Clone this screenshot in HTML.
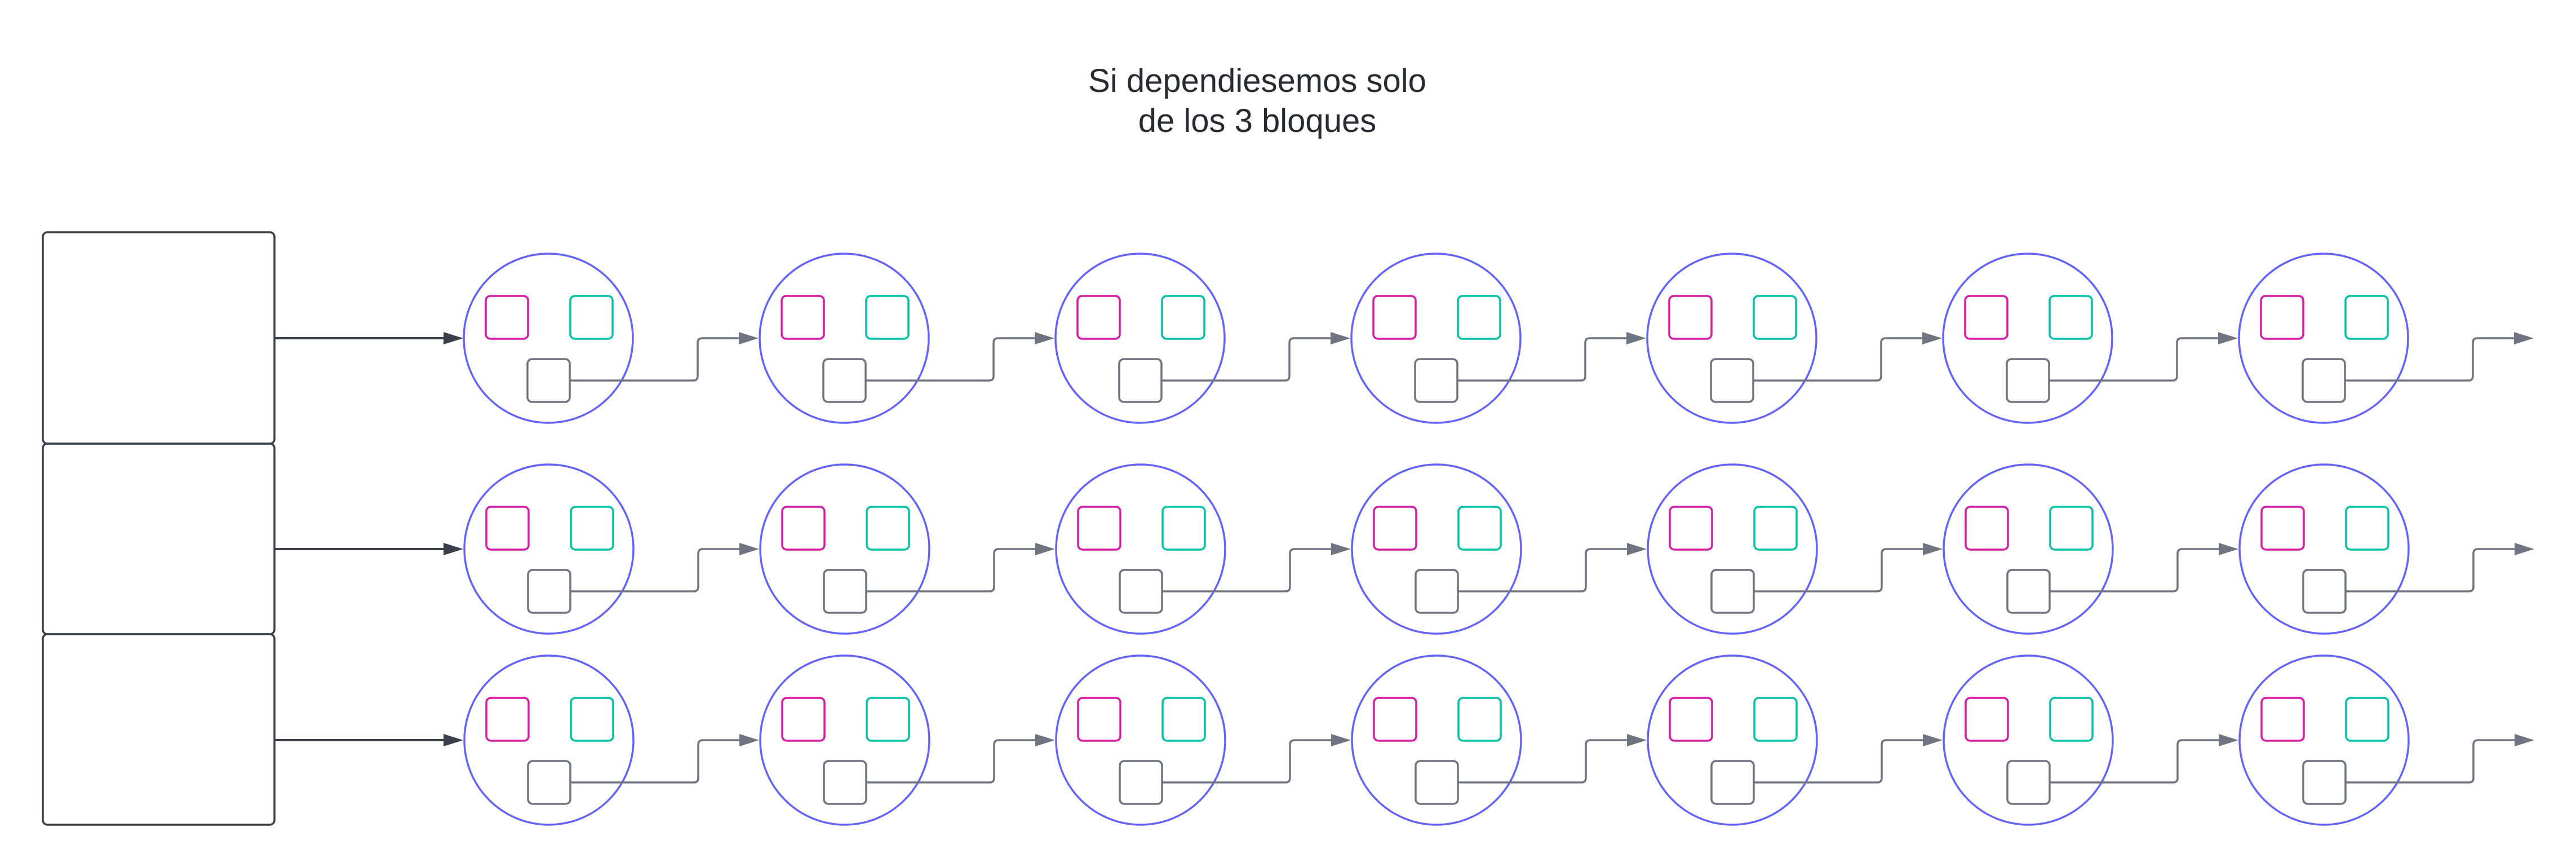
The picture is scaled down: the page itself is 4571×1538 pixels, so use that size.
<!DOCTYPE html>
<html><head><meta charset="utf-8"><style>
html,body{margin:0;padding:0;background:#fff;}
svg{display:block;}
</style></head><body>
<svg width="4571" height="1538" viewBox="0 0 4571 1538" xmlns="http://www.w3.org/2000/svg">
<defs>
<g id="n">
  <circle cx="973" cy="600" r="150" fill="none" stroke="#6363fb" stroke-width="3.5"/>
  <rect x="862" y="525" width="75" height="76" rx="8" fill="none" stroke="#d81aa5" stroke-width="3.5"/>
  <rect x="1012" y="525" width="75" height="76" rx="8" fill="none" stroke="#00c2a8" stroke-width="3.5"/>
  <rect x="936" y="637" width="75" height="76" rx="8" fill="none" stroke="#6e7480" stroke-width="3.5"/>
  <path d="M1011 675 H1230 Q1238 675 1238 667 V608 Q1238 600 1246 600 H1314" fill="none" stroke="#6e7480" stroke-width="3.5"/>
  <polygon points="1311,589 1346,600 1311,611" fill="#6e7480"/>
</g>
<g id="row">
  <use href="#n"/>
  <use href="#n" x="525"/>
  <use href="#n" x="1050"/>
  <use href="#n" x="1575"/>
  <use href="#n" x="2100"/>
  <use href="#n" x="2625"/>
  <use href="#n" x="3150"/>
</g>
</defs>
<text x="2231" y="163" font-family="Liberation Sans, sans-serif" font-size="58" fill="#262a31" text-anchor="middle">Si dependiesemos solo</text>
<text x="2231" y="234" font-family="Liberation Sans, sans-serif" font-size="58" fill="#262a31" text-anchor="middle">de los 3 bloques</text>

<rect x="76" y="412" width="411" height="375" rx="8" fill="none" stroke="#3a4049" stroke-width="3.5"/>
<rect x="76" y="787" width="411" height="338" rx="8" fill="none" stroke="#3a4049" stroke-width="3.5"/>
<rect x="76" y="1125" width="411" height="338" rx="8" fill="none" stroke="#3a4049" stroke-width="3.5"/>

<g>
  <line x1="487" y1="600" x2="790" y2="600" stroke="#3a4049" stroke-width="4"/>
  <polygon points="787,589 822,600 787,611" fill="#3a4049"/>
  <line x1="487" y1="974" x2="790" y2="974" stroke="#3a4049" stroke-width="4"/>
  <polygon points="787,963 822,974 787,985" fill="#3a4049"/>
  <line x1="487" y1="1313" x2="790" y2="1313" stroke="#3a4049" stroke-width="4"/>
  <polygon points="787,1302 822,1313 787,1324" fill="#3a4049"/>
</g>

<use href="#row"/>
<use href="#row" x="1" y="374"/>
<use href="#row" x="1" y="713"/>
</svg>
</body></html>
